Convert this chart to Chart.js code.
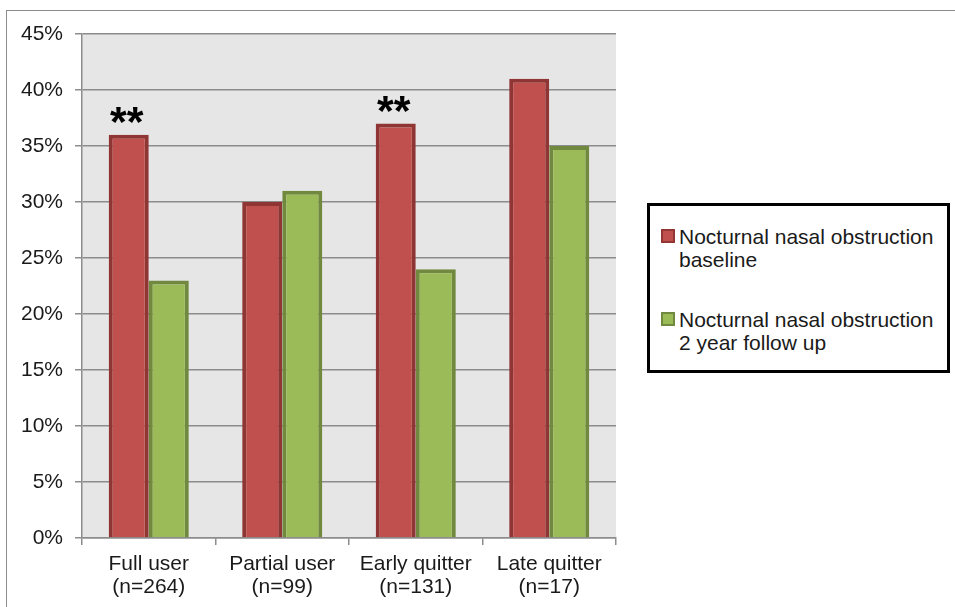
<!DOCTYPE html>
<html>
<head>
<meta charset="utf-8">
<script src="https://cdn.jsdelivr.net/npm/chart.js@4"></script>
<style>
    body { margin: 0; background: #fff; font-family: "Liberation Sans", Arial, sans-serif; }
    #wrap { position: relative; width: 955px; height: 607px; overflow: hidden; }
    #frame { position: absolute; left: 6px; top: 10px; width: 1000px; height: 700px; border: 1.5px solid #8c8c8c; }
    #legend { position: absolute; left: 647px; top: 203px; width: 297px; height: 164px; border: 3px solid #000; background: #fff; }
    .item { position: absolute; left: 11px; font-size: 21px; line-height: 23px; color: #1a1a1a; white-space: nowrap; }
    .box { position: absolute; left: 0; top: 4px; width: 10px; height: 10px; border: 2px solid; }
    .txt { margin-left: 18px; }
</style>
</head>
<body>
<div id="wrap">
    <div id="frame"></div>
    <canvas id="chart" width="955" height="607" style="position:absolute;left:0;top:0"></canvas>
    <div id="legend">
        <div class="item" style="top:19px"><span class="box" style="background:#c0504d;border-color:#943634"></span><div class="txt">Nocturnal nasal obstruction<br>baseline</div></div>
        <div class="item" style="top:102px"><span class="box" style="background:#9bbb59;border-color:#71893f"></span><div class="txt">Nocturnal nasal obstruction<br>2 year follow up</div></div>
    </div>
</div>
<script>
const categories = [['Full user', '(n=264)'], ['Partial user', '(n=99)'], ['Early quitter', '(n=131)'], ['Late quitter', '(n=17)']];
const baseline = [36, 30, 37, 41];
const followUp = [23, 31, 24, 35];
const starred = [0, 2]; // groups marked ** on the baseline bar

// gray plot background, drawn under the grid
const plotBg = {
    id: 'plotBg',
    beforeDraw(chart) {
        const a = chart.chartArea;
        const ctx = chart.ctx;
        ctx.save();
        ctx.fillStyle = '#e6e6e6';
        ctx.fillRect(a.left, a.top, a.right - a.left, a.bottom - a.top);
        ctx.restore();
    }
};

const stars = {
    id: 'stars',
    afterDatasetsDraw(chart) {
        const ctx = chart.ctx;
        const meta = chart.getDatasetMeta(0);
        ctx.save();
        ctx.font = 'bold 43px "Liberation Sans", Arial, sans-serif';
        ctx.fillStyle = '#000';
        ctx.textAlign = 'center';
        ctx.textBaseline = 'alphabetic';
        starred.forEach(i => {
            const bar = meta.data[i];
            ctx.fillText('**', bar.x - 2, bar.y + 1);
        });
        ctx.restore();
    }
};

const ctx = document.getElementById('chart').getContext('2d');
new Chart(ctx, {
    type: 'bar',
    data: {
        labels: categories,
        datasets: [{
            label: 'Nocturnal nasal obstruction baseline',
            data: baseline,
            backgroundColor: '#c0504d',
            borderColor: '#8f3533',
            borderWidth: 4,
            borderSkipped: 'start'
        }, {
            label: 'Nocturnal nasal obstruction 2 year follow up',
            data: followUp,
            backgroundColor: '#9bbb59',
            borderColor: '#71893f',
            borderWidth: 4,
            borderSkipped: 'start'
        }]
    },
    options: {
        responsive: false,
        animation: false,
        layout: { padding: { left: 0, right: 339, top: 34, bottom: 0 } },
        datasets: { bar: { categoryPercentage: 0.6, barPercentage: 1.0 } },
        plugins: {
            legend: { display: false },
            tooltip: { enabled: false }
        },
        scales: {
            x: {
                afterFit: scale => { scale.height = 69; },
                grid: { display: true, drawOnChartArea: false, offset: true, tickLength: 7, color: '#8c8c8c', lineWidth: 1.5 },
                border: { color: '#8c8c8c', width: 1.5 },
                ticks: {
                    color: '#1a1a1a',
                    padding: 8,
                    font: { family: '"Liberation Sans", Arial, sans-serif', size: 21, lineHeight: '23px' }
                }
            },
            y: {
                min: 0,
                max: 45,
                afterFit: scale => { scale.width = 82; },
                grid: { color: '#8c8c8c', lineWidth: 1.5, tickLength: 7 },
                border: { color: '#8c8c8c', width: 1.5 },
                ticks: {
                    stepSize: 5,
                    color: '#1a1a1a',
                    padding: 12,
                    font: { family: '"Liberation Sans", Arial, sans-serif', size: 21 },
                    callback: v => v + '%'
                }
            }
        }
    },
    plugins: [plotBg, stars]
});
</script>
</body>
</html>
